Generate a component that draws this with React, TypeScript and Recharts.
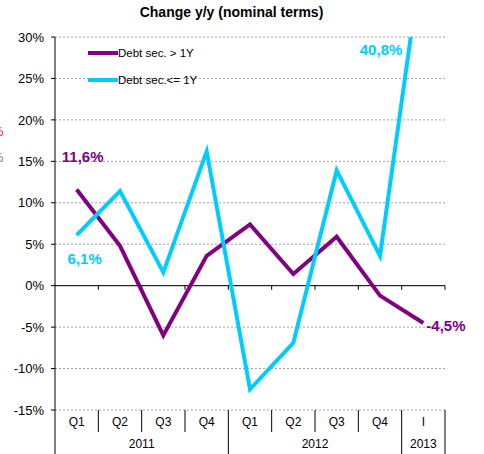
import React from 'react';
import {
  LineChart, Line, XAxis, YAxis, CartesianGrid, ReferenceLine, ReferenceDot, LabelList, Legend,
} from 'recharts';

const quarters = ['Q1', 'Q2', 'Q3', 'Q4', 'Q1', 'Q2', 'Q3', 'Q4', 'I'];
const years = ['2011', '2012', '2013'];
const yearStarts = [0, 4, 8];
const yearEnds = [4, 8, 9];
const debtLong = [11.6, 4.8, -6.0, 3.6, 7.4, 1.4, 5.9, -1.2, -4.5];
const debtShort = [6.1, 11.4, 1.6, 16.2, -12.5, -6.9, 13.9, 3.6, 40.8];
const yTicks = [-15, -10, -5, 0, 5, 10, 15, 20, 25, 30];

const PURPLE = '#800080';
const CYAN = '#00CCFF';
const FONT = '"Liberation Sans", Arial, sans-serif';

// each quarter sits in the middle of its own unit slot on a numeric axis
const data = quarters.map((q, i) => ({ x: i + 0.5, q, long: debtLong[i], short: debtShort[i] }));

const boundaries = quarters.map((_, i) => i).concat([quarters.length]);
const centers = quarters.map((_, i) => i + 0.5);
const xTicks = [...boundaries, ...centers].sort((a, b) => a - b);
const yearCenters = years.map((_, i) => (yearStarts[i] + yearEnds[i]) / 2);

const fmt = (v: number) => `${v.toFixed(1).replace('.', ',')}%`;

const XTick = (props: any) => {
  const { x, y, payload } = props;
  const v = payload.value;
  const yi = yearCenters.indexOf(v);
  const isYearEdge = yearStarts.includes(v) || yearEnds.includes(v);
  return (
    <g>
      {Number.isInteger(v) && (
        <line x1={x} x2={x} y1={y} y2={y + (isYearEdge ? 44 : 22)} stroke="#000" strokeWidth={1} />
      )}
      {!Number.isInteger(v) && (
        <text x={x} y={y + 16} textAnchor="middle" fontSize={12} fontFamily={FONT} fill="#000">
          {quarters[Math.floor(v)]}
        </text>
      )}
      {yi >= 0 && (
        <text x={x} y={y + 38} textAnchor="middle" fontSize={12} fontFamily={FONT} fill="#000">
          {years[yi]}
        </text>
      )}
    </g>
  );
};

const pointOf = (props: any) => ({
  x: props.x ?? props.viewBox?.x,
  y: props.y ?? props.viewBox?.y,
});

const LongLabel = (props: any) => {
  const { index, value } = props;
  const { x, y } = pointOf(props);
  if (index === 0) {
    return (
      <text x={x + 6} y={y - 28} textAnchor="middle" fontSize={15} fontWeight="bold" fontFamily={FONT} fill={PURPLE}>
        {fmt(value)}
      </text>
    );
  }
  if (index === debtLong.length - 1) {
    return (
      <text x={x + 3} y={y + 8} textAnchor="start" fontSize={15} fontWeight="bold" fontFamily={FONT} fill={PURPLE}>
        {fmt(value)}
      </text>
    );
  }
  return null;
};

const ShortLabel = (props: any) => {
  const { index, value } = props;
  const { x, y } = pointOf(props);
  if (index === 0) {
    return (
      <text x={x + 8} y={y + 29} textAnchor="middle" fontSize={15} fontWeight="bold" fontFamily={FONT} fill={CYAN}>
        {fmt(value)}
      </text>
    );
  }
  return null;
};

const LegendBox = (props: any) => {
  const { payload } = props;
  return (
    <div style={{ fontFamily: FONT, fontSize: 11.5, color: '#000' }}>
      {(payload || []).map((entry: any) => (
        <div key={entry.value} style={{ display: 'flex', alignItems: 'center', height: 27 }}>
          <div style={{ width: 30, height: 4, background: entry.color }} />
          <span>{entry.value}</span>
        </div>
      ))}
    </div>
  );
};

export default function App() {
  const last = data[data.length - 1];
  return (
    <div style={{ position: 'absolute', left: 0, top: 0, width: 484, height: 454, overflow: 'hidden', background: '#fff' }}>
      <div
        style={{
          position: 'absolute', left: 0, top: 4, width: 463, textAlign: 'center',
          fontFamily: FONT, fontSize: 14, fontWeight: 'bold', lineHeight: '16px',
        }}
      >
        Change y/y (nominal terms)
      </div>
      <span style={{ position: 'absolute', left: -8, top: 124, fontFamily: FONT, fontSize: 13, color: '#ff0000' }}>%</span>
      <span style={{ position: 'absolute', left: -8, top: 150, fontFamily: FONT, fontSize: 13, color: '#777' }}>%</span>
      <LineChart width={484} height={454} data={data} margin={{ top: 37, right: 39, bottom: 0, left: 0 }}>
        <CartesianGrid vertical={false} stroke="#a0a0a0" strokeDasharray="2 2" />
        <XAxis
          dataKey="x"
          type="number"
          domain={[0, quarters.length]}
          ticks={xTicks}
          interval={0}
          height={44}
          axisLine={false}
          tickLine={false}
          tickSize={0}
          tickMargin={0}
          tick={<XTick />}
        />
        <YAxis
          type="number"
          domain={[-15, 30]}
          ticks={yTicks}
          allowDataOverflow
          width={55}
          interval={0}
          tickFormatter={(v: number) => `${v}%`}
          axisLine={{ stroke: '#000' }}
          tickLine={{ stroke: '#000' }}
          tickSize={4}
          tickMargin={7}
          tick={{ fill: '#000', fontSize: 13, fontFamily: FONT }}
        />
        <ReferenceLine y={0} stroke="#000" strokeWidth={1} />
        {boundaries.slice(1).map((b) => (
          <ReferenceLine key={b} segment={[{ x: b, y: 0 }, { x: b, y: -0.5 }]} stroke="#000" strokeWidth={1} />
        ))}
        <Legend
          layout="horizontal"
          verticalAlign="middle"
          align="center"
          wrapperStyle={{ left: 88, top: 39, width: 200, height: 54 }}
          content={<LegendBox />}
        />
        <Line
          name="Debt sec. > 1Y"
          dataKey="long"
          stroke={PURPLE}
          strokeWidth={4}
          dot={false}
          isAnimationActive={false}
        >
          <LabelList dataKey="long" content={<LongLabel />} />
        </Line>
        <Line
          name="Debt sec.<= 1Y"
          dataKey="short"
          stroke={CYAN}
          strokeWidth={4}
          dot={false}
          isAnimationActive={false}
        >
          <LabelList dataKey="short" content={<ShortLabel />} />
        </Line>
        <ReferenceDot
          x={last.x}
          y={28.5}
          r={0}
          fill="none"
          stroke="none"
          label={{
            value: fmt(last.short), position: 'left', offset: 21,
            fill: CYAN, fontSize: 15, fontWeight: 'bold', fontFamily: FONT,
          }}
        />
      </LineChart>
    </div>
  );
}
